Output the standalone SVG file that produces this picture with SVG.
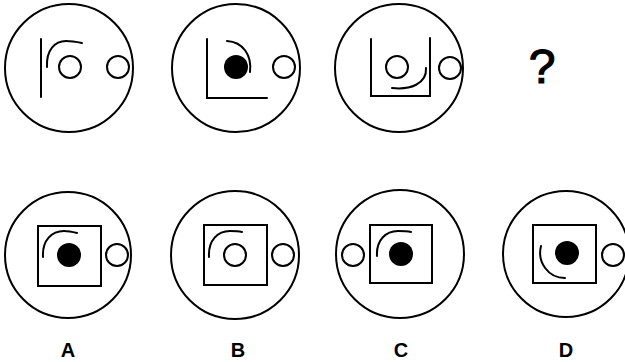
<svg xmlns="http://www.w3.org/2000/svg" width="625" height="362" viewBox="0 0 625 362">
<style>
.s{fill:none;stroke:#000;stroke-width:2;stroke-linecap:round}
.f{fill:#000}
.t{font-family:"Liberation Sans",Arial,sans-serif;fill:#000;text-anchor:middle;font-weight:bold}
</style>
<rect width="625" height="362" fill="#fff"/>
<g id="p1">
<circle class="s" cx="69" cy="68" r="64"/>
<line class="s" x1="41" y1="39" x2="41" y2="97"/>
<path class="s" d="M47,67 C46,50 55,41 66,41 C72,41 77,42 82,43"/>
<circle class="s" cx="70" cy="67" r="11"/>
<circle class="s" cx="118" cy="67" r="11"/>
</g>
<g id="p2">
<circle class="s" cx="236" cy="68" r="64"/>
<path class="s" d="M207,39 L207,98 L267,98"/>
<circle class="f" cx="236" cy="67" r="12"/>
<path class="s" d="M227,41 C243,42 252,55 250,72"/>
<circle class="s" cx="284" cy="67" r="11"/>
</g>
<g id="p3">
<circle class="s" cx="399" cy="68" r="64"/>
<path class="s" d="M371,39 L371,96 L430,96 L430,38"/>
<circle class="s" cx="397" cy="67" r="11"/>
<path class="s" d="M392,88 C410,90 427,84 426,68"/>
<circle class="s" cx="450" cy="68" r="11"/>
</g>
<text x="542" y="83" font-size="48" font-family="Liberation Sans, Arial, sans-serif" text-anchor="middle" stroke="#000" stroke-width="1.2">?</text>
<g id="A">
<circle class="s" cx="68" cy="255" r="63"/>
<rect class="s" x="38" y="226" width="63" height="60"/>
<circle class="f" cx="69" cy="255" r="12"/>
<path class="s" d="M43,257 C42,240 52,231 64,231 C69,231 73,232 77,233"/>
<circle class="s" cx="117" cy="255" r="11"/>
<text class="t" x="68" y="357" font-size="20">A</text>
</g>
<g id="B">
<circle class="s" cx="235" cy="255" r="64"/>
<rect class="s" x="204" y="225" width="63" height="60"/>
<circle class="s" cx="235" cy="255" r="11"/>
<path class="s" d="M209,257 C208,240 218,231 230,231 C235,231 238,231 242,232"/>
<circle class="s" cx="283" cy="255" r="11"/>
<text class="t" x="238" y="357" font-size="20">B</text>
</g>
<g id="C">
<circle class="s" cx="400" cy="254" r="64"/>
<rect class="s" x="370" y="225" width="62" height="58"/>
<circle class="f" cx="401" cy="254" r="12"/>
<path class="s" d="M377,256 C376,240 386,231 398,231 C403,231 407,231 411,232"/>
<circle class="s" cx="353" cy="255" r="11"/>
<text class="t" x="401" y="357" font-size="20">C</text>
</g>
<g id="D">
<circle class="s" cx="566" cy="254" r="63"/>
<rect class="s" x="533" y="225" width="63" height="58"/>
<circle class="f" cx="567" cy="253" r="12"/>
<path class="s" d="M541,246 C537,262 548,278 565,278"/>
<circle class="s" cx="613" cy="255" r="11"/>
<text class="t" x="566" y="357" font-size="20">D</text>
</g>
</svg>
